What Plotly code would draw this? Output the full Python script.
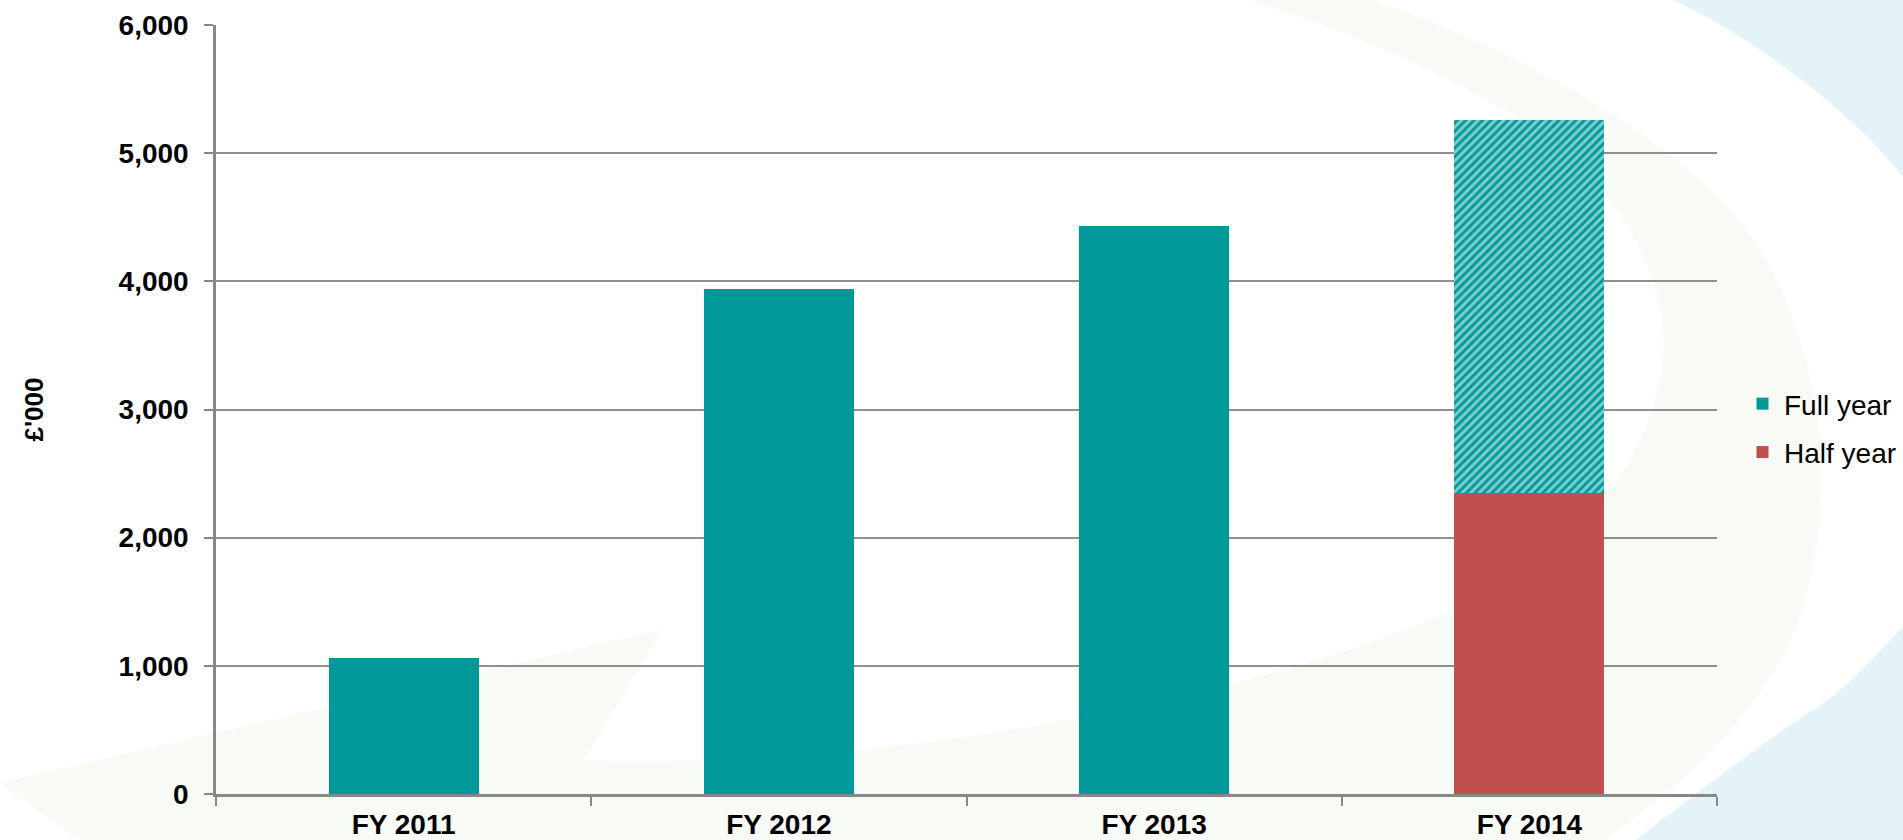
import plotly.graph_objects as go

# ---- data ----
categories = ["FY 2011", "FY 2012", "FY 2013", "FY 2014"]
full_year = [1060, 3940, 4430, None]          # actual full-year values
half_year = [None, None, None, 2350]          # FY 2014 half-year actual
full_year_forecast = [None, None, None, 5260]  # FY 2014 expected full-year total
y_ticks = [0, 1000, 2000, 3000, 4000, 5000, 6000]
y_tick_labels = ["0", "1,000", "2,000", "3,000", "4,000", "5,000", "6,000"]

TEAL = "#009999"
RED = "#C0504D"

# remainder of the forecast above the half-year actual
forecast_remainder = [
    (f - h) if (f is not None and h is not None) else None
    for f, h in zip(full_year_forecast, half_year)
]

fig = go.Figure()
fig.add_trace(go.Bar(
    x=categories, y=full_year, name="Full year", legendgroup="full",
    marker=dict(color=TEAL, line=dict(width=0)),
))
fig.add_trace(go.Bar(
    x=categories, y=half_year, name="Half year", legendgroup="half",
    marker=dict(color=RED, line=dict(width=0)),
))
fig.add_trace(go.Bar(
    x=categories, y=forecast_remainder, name="Full year (forecast)",
    legendgroup="full", showlegend=False,
    marker=dict(color=TEAL, line=dict(width=0),
                pattern=dict(shape="/", fgcolor="white", bgcolor=TEAL,
                             size=6, solidity=0.5)),
))

# ---- decorative background (faint swooshes) ----
L, R, T, B = 216, 1717, 25, 794
W, H = R - L, B - T


def px(x):
    return (x - L) / W


def py(y):
    return (B - y) / H


def path(cmds):
    out = []
    for c in cmds:
        if isinstance(c, str):
            out.append(c)
        else:
            out.append(f"{px(c[0]):.4f},{py(c[1]):.4f}")
    return " ".join(out)


shapes = []
GREEN = "#F8FAF5"
BLUE = "#E4F3F7"
# big faint green crescent + bottom swoosh
shapes.append(dict(
    type="path", xref="paper", yref="paper", layer="below", line=dict(width=0),
    fillcolor=GREEN,
    path=path(["M", (0, 783), "L", (662, 630), "L", (583, 760),
               "C", (900, 772), (1300, 690), (1500, 589),
               "C", (1600, 540), (1670, 420), (1663, 332),
               "C", (1655, 230), (1580, 150), (1500, 107),
               "C", (1420, 60), (1330, 25), (1250, 0),
               "L", (1371, 0),
               "C", (1520, 50), (1700, 150), (1760, 250),
               "C", (1830, 370), (1840, 520), (1790, 640),
               "C", (1740, 740), (1660, 800), (1604, 840),
               "L", (80, 840), "L", (0, 783), "Z"]),
))
# top-right light blue
shapes.append(dict(
    type="path", xref="paper", yref="paper", layer="below", line=dict(width=0),
    fillcolor=BLUE,
    path=path(["M", (1673, 0), "C", (1760, 40), (1860, 120), (1903, 177),
               "L", (1903, 0), "Z"]),
))
# bottom-right light blue
shapes.append(dict(
    type="path", xref="paper", yref="paper", layer="below", line=dict(width=0),
    fillcolor=BLUE,
    path=path(["M", (1636, 840), "C", (1700, 790), (1780, 730), (1828, 700),
               "C", (1860, 675), (1885, 645), (1903, 627),
               "L", (1903, 840), "Z"]),
))

FONT = "Liberation Sans, Arial, sans-serif"

fig.update_layout(
    width=1903, height=840,
    margin=dict(l=L, r=1903 - R, t=T, b=840 - B, autoexpand=False),
    paper_bgcolor="white", plot_bgcolor="rgba(0,0,0,0)",
    barmode="stack", bargap=0.6,
    font=dict(family=FONT, color="black"),
    shapes=shapes,
    showlegend=True,
    legend=dict(x=1.016, xanchor="left", y=0.476, yanchor="middle",
                font=dict(size=28, color="black"), bgcolor="rgba(0,0,0,0)",
                traceorder="grouped", tracegroupgap=9, itemwidth=33),
    xaxis=dict(
        tickvals=categories, ticktext=[f"<b>{c}</b>" for c in categories],
        showline=True, linecolor="#888888", linewidth=2.5,
        ticks="outside", tickson="boundaries", ticklen=9, tickwidth=1.5,
        tickcolor="#888888", showgrid=False, zeroline=False,
        tickfont=dict(size=28, family=FONT),
        ticklabelstandoff=4,
    ),
    yaxis=dict(
        range=[0, 6000], tickvals=y_ticks,
        ticktext=[f"<b>{t}</b>" for t in y_tick_labels],
        showline=True, linecolor="#888888", linewidth=2.5,
        ticks="outside", ticklen=9, tickwidth=1.5, tickcolor="#888888",
        showgrid=True, gridcolor="#8f8f8f", gridwidth=1.5, zeroline=False,
        tickfont=dict(size=28, family=FONT),
        ticklabelstandoff=10,
        title=dict(text="<b>£'000</b>", font=dict(size=26, family=FONT),
                   standoff=68),
    ),
)

fig.write_html("out.html",
               config={"displayModeBar": False},
               post_script="document.body.style.margin='0px';"
                           "document.body.style.overflow='hidden';")
